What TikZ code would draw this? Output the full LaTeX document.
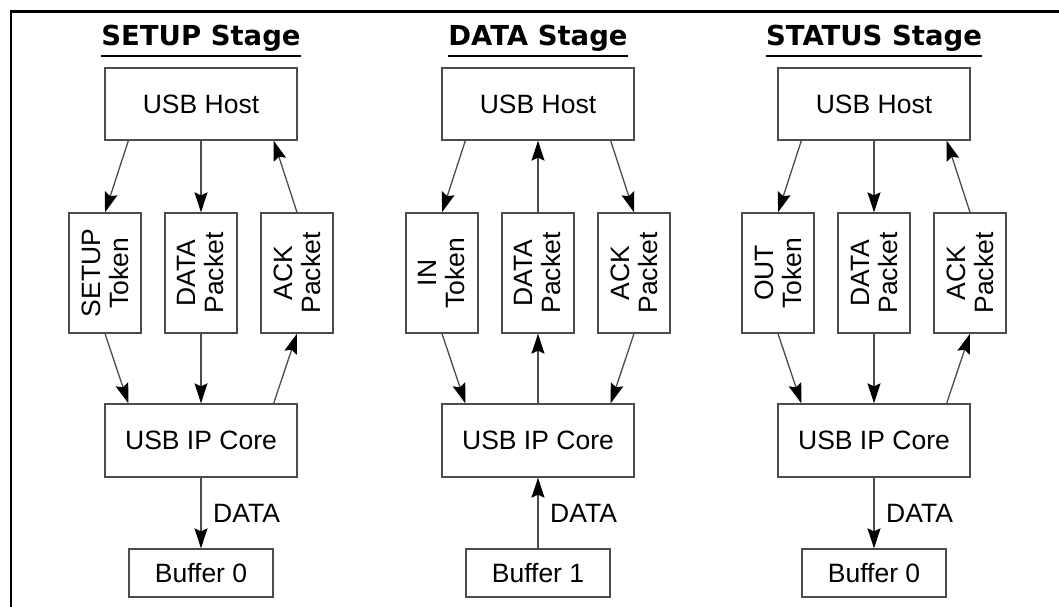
\documentclass[tikz,border=0pt]{standalone}
\usepackage{fontspec}
\setmainfont{Liberation Sans}
\newfontfamily\titlefont{DejaVu Sans}
\usetikzlibrary{arrows.meta,calc}
\tikzset{
  box/.style={draw=black!70, line width=1.3pt, inner sep=0pt},
  hostbox/.style={box, minimum width=192pt, minimum height=72pt},
  pktbox/.style={box, minimum width=72pt, minimum height=120pt},
  bufbox/.style={box, minimum width=144pt, minimum height=48pt},
  txt/.style={inner sep=0pt, font=\fontsize{26.5}{28}\selectfont, align=center},
  rtxt/.style={txt, rotate=90},
  ttl/.style={inner sep=0pt, font=\titlefont\bfseries\fontsize{27.5}{30}\selectfont},
  arr/.style={draw=black!70, line width=1.3pt, -{Stealth[length=20pt,width=13pt,inset=3pt,color=black,fill=black]}},
  uline/.style={line width=2.2pt}
}
\begin{document}
\begin{tikzpicture}[x=1pt,y=-1pt]
\useasboundingbox (0,0) rectangle (1059,607);
\draw[line width=2.5pt] (11,612) -- (11,11.5) -- (1064,11.5);

% ---------- columns ----------
\foreach \c/\X/\ta/\tb/\bn in {1/201/SETUP/Token/0, 2/538/IN/Token/1, 3/874/OUT/Token/0} {
  \node[hostbox] (host\c) at (\X,104) {};
  \node[txt] (hostt\c) at (host\c) {USB Host};
  \node[pktbox] (pa\c) at (\X-96,273) {};
  \node[pktbox] (pb\c) at (\X,273) {};
  \node[pktbox] (pc\c) at (\X+96,273) {};
  \node[rtxt] (ta\c) at (pa\c) {\ta\\\tb};
  \node[rtxt] (tb\c) at (pb\c) {DATA\\Packet};
  \node[rtxt] (tc\c) at (pc\c) {ACK\\Packet};
  \node[hostbox, minimum height=73pt] (core\c) at (\X,440.5) {};
  \node[txt] (coret\c) at (core\c) {USB IP Core};
  \node[bufbox] (buf\c) at (\X,573) {};
  \node[txt] (buft\c) at (buf\c) {Buffer \bn};
  \path (core\c.south) -- (buf\c.north) node[midway, anchor=west, inner sep=0pt, xshift=12pt, font=\fontsize{26.5}{28}\selectfont] (dl\c) {DATA};
}

% titles
\node[ttl] (title1) at (201,38) {SETUP Stage};
\node[ttl] (title2) at (538,38) {DATA Stage};
\node[ttl] (title3) at (874,38) {STATUS Stage};
\foreach \i in {1,2,3} {
  \draw[uline] ($(title\i.west)+(0,18)$) -- ($(title\i.east)+(0,18)$);
}

% column 1 (SETUP)
\draw[arr] ([xshift=24pt]host1.south west) -- (pa1.north);
\draw[arr] (host1.south) -- (pb1.north);
\draw[arr] (pc1.north) -- ([xshift=-24pt]host1.south east);
\draw[arr] (pa1.south) -- ([xshift=24pt]core1.north west);
\draw[arr] (pb1.south) -- (core1.north);
\draw[arr] ([xshift=-24pt]core1.north east) -- (pc1.south);
\draw[arr] (core1.south) -- (buf1.north);

% column 2 (DATA)
\draw[arr] ([xshift=24pt]host2.south west) -- (pa2.north);
\draw[arr] (pb2.north) -- (host2.south);
\draw[arr] ([xshift=-24pt]host2.south east) -- (pc2.north);
\draw[arr] (pa2.south) -- ([xshift=24pt]core2.north west);
\draw[arr] (core2.north) -- (pb2.south);
\draw[arr] (pc2.south) -- ([xshift=-24pt]core2.north east);
\draw[arr] (buf2.north) -- (core2.south);

% column 3 (STATUS)
\draw[arr] ([xshift=24pt]host3.south west) -- (pa3.north);
\draw[arr] (host3.south) -- (pb3.north);
\draw[arr] (pc3.north) -- ([xshift=-24pt]host3.south east);
\draw[arr] (pa3.south) -- ([xshift=24pt]core3.north west);
\draw[arr] (pb3.south) -- (core3.north);
\draw[arr] ([xshift=-24pt]core3.north east) -- (pc3.south);
\draw[arr] (core3.south) -- (buf3.north);
\end{tikzpicture}
\end{document}
